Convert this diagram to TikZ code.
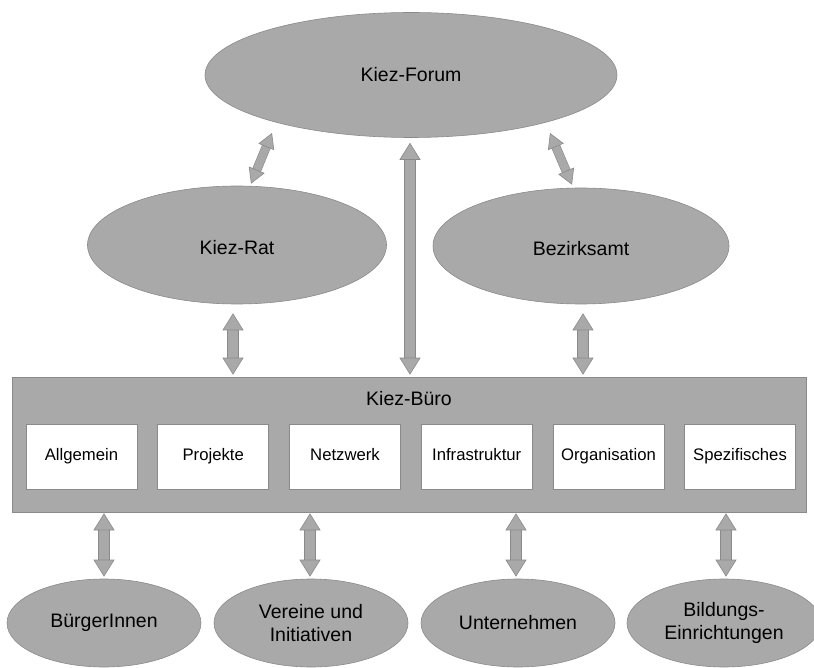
\documentclass[tikz,border=0pt]{standalone}
\usepackage{fontspec}
\setmainfont{Liberation Sans}
\usetikzlibrary{shapes.geometric,arrows.meta}

\definecolor{kiezfill}{RGB}{169,169,169}
\definecolor{kiezline}{RGB}{138,138,138}

\newcommand{\bigfont}{\fontsize{19.5}{23}\selectfont}
\newcommand{\boxfont}{\fontsize{16.7}{20}\selectfont}

\tikzset{
  kiezell/.style={ellipse, fill=kiezfill, draw=kiezline, line width=0.6pt, inner sep=0pt, align=center, font=\bigfont},
  teilbox/.style={rectangle, fill=white, draw=kiezline, line width=0.6pt, inner sep=0pt, minimum width=111pt, minimum height=65pt, text height=12pt, text depth=3.5pt, font=\boxfont},
  vpfeil/.style={draw=kiezfill, line width=10pt,
    >={Triangle[width=21pt,length=17pt,line width=0.6pt,color=kiezline,fill=kiezfill]}, <->,
    preaction={draw=kiezline, line width=11.2pt, arrows=-, shorten >=15pt, shorten <=15pt}},
  dpfeil/.style={draw=kiezfill, line width=8pt,
    >={Triangle[width=17pt,length=15pt,line width=0.6pt,color=kiezline,fill=kiezfill]}, <->,
    preaction={draw=kiezline, line width=9.2pt, arrows=-, shorten >=13pt, shorten <=13pt}}
}

\begin{document}
\begin{tikzpicture}[x=1pt,y=-1pt]
  \useasboundingbox (0,0) rectangle (814,668);
  % oben
  \node[kiezell, minimum width=412pt, minimum height=125pt] (forum) at (411,75) {Kiez-Forum};
  \node[kiezell, minimum width=299pt, minimum height=118pt, text height=20pt] (rat) at (237,245) {Kiez-Rat};
  \node[kiezell, minimum width=296pt, minimum height=116pt, text height=20pt] (amt) at (581,246) {Bezirksamt};
  % Kiez-Buero
  \node[rectangle, fill=kiezfill, draw=kiezline, line width=0.6pt, minimum width=794pt, minimum height=135pt] (buero) at (409,444.5) {};
  \node[font=\bigfont] (bueroname) at (409,399) {Kiez-Büro};
  \node[teilbox] (allgemein) at (81.5,456.5) {Allgemein};
  \node[teilbox] (projekte) at (213.2,456.5) {Projekte};
  \node[teilbox] (netzwerk) at (345,456.5) {Netzwerk};
  \node[teilbox] (infra) at (476.7,456.5) {Infrastruktur};
  \node[teilbox] (orga) at (608.5,456.5) {Organisation};
  \node[teilbox] (spezi) at (740,456.5) {Spezifisches};
  % unten
  \node[kiezell, minimum width=194pt, minimum height=88pt] (buerger) at (104,623) {BürgerInnen};
  \node[kiezell, minimum width=194pt, minimum height=88pt] (vereine) at (311,623) {Vereine und\\Initiativen};
  \node[kiezell, minimum width=194pt, minimum height=88pt] (unternehmen) at (518,623) {Unternehmen};
  \node[kiezell, minimum width=194pt, minimum height=88pt] (bildung) at (724,623) {Bildungs-\\Einrichtungen};
  % Pfeile
  \draw[dpfeil] ([shift={(-139,58)}]forum.center) -- ([shift={(14,-2)}]rat.north);
  \draw[dpfeil] ([shift={(139,58)}]forum.center) -- ([shift={(-9,-3)}]amt.north);
  \draw[vpfeil] ([shift={(-1,5)}]forum.south) -- ([shift={(1,-2)}]buero.north);
  \draw[vpfeil] ([shift={(-4,9)}]rat.south) -- ([shift={(-4,-2)}]rat.south |- buero.north);
  \draw[vpfeil] ([shift={(2,9)}]amt.south) -- ([shift={(2,-2)}]amt.south |- buero.north);
  \draw[vpfeil] ([shift={(0,1)}]buerger.north |- buero.south) -- ([shift={(0,-2)}]buerger.north);
  \draw[vpfeil] ([shift={(-1,1)}]vereine.north |- buero.south) -- ([shift={(-1,-2)}]vereine.north);
  \draw[vpfeil] ([shift={(-2,1)}]unternehmen.north |- buero.south) -- ([shift={(-2,-2)}]unternehmen.north);
  \draw[vpfeil] ([shift={(2,1)}]bildung.north |- buero.south) -- ([shift={(2,-2)}]bildung.north);
\end{tikzpicture}
\end{document}
